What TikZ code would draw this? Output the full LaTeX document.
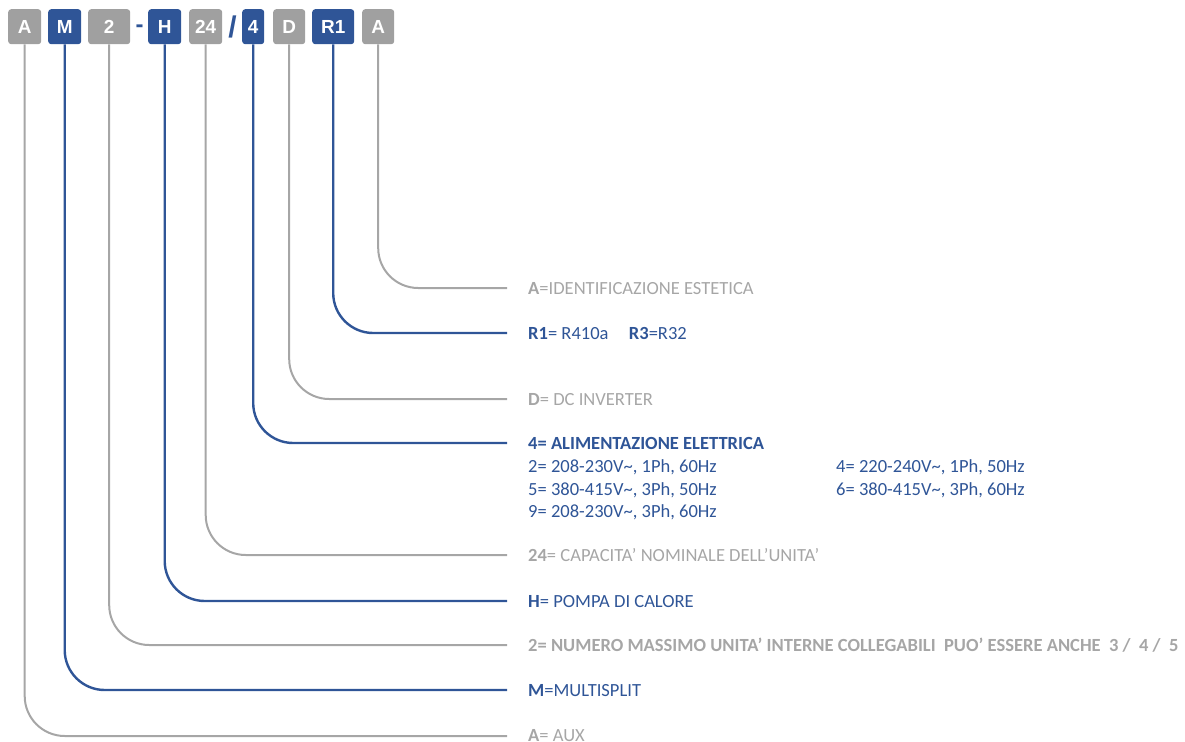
\documentclass[tikz,border=0pt]{standalone}
\usepackage{fontspec}
\setmainfont{Carlito}
\newfontfamily\boxfont{Liberation Sans}
\definecolor{cgray}{RGB}{160,160,160}
\definecolor{lgray}{RGB}{166,166,166}
\definecolor{cblue}{RGB}{47,85,151}
\begin{document}
\begin{tikzpicture}[x=1bp,y=-1bp,
  codebox/.style={rounded corners=3bp, inner sep=0pt, minimum height=35bp, text=white,
     font=\boxfont\fontsize{19}{19}\selectfont\bfseries, anchor=north west},
  gbox/.style={codebox, fill=cgray},
  bbox/.style={codebox, fill=cblue},
  glink/.style={draw=lgray, line width=2bp, rounded corners=40bp},
  blink/.style={draw=cblue, line width=2.4bp, rounded corners=40bp},
  lab/.style={anchor=west, inner sep=0pt, text height=12bp, text depth=0pt,
     font=\fontsize{18.6}{18.6}\selectfont},
  glab/.style={lab, text=lgray},
  blab/.style={lab, text=cblue}]
\useasboundingbox (0,0) rectangle (1185,742);
% code boxes
\node[gbox, minimum width=33bp] (b1) at (8,9) {A};
\node[bbox, minimum width=33bp] (b2) at (48,9) {M};
\node[gbox, minimum width=42bp] (b3) at (88,9) {2};
\node[text=cblue, inner sep=0pt, anchor=base, font=\boxfont\fontsize{24}{24}\selectfont\bfseries] (dash) at (139.5,32.5) {-};
\node[bbox, minimum width=33bp] (b4) at (148,9) {H};
\node[gbox, minimum width=33bp] (b5) at (189,9) {24};
\node[text=cblue, inner sep=0pt, font=\boxfont\fontsize{30}{30}\selectfont\bfseries] (slash) at (232.5,27) {/};
\node[bbox, minimum width=22bp] (b6) at (242,9) {4};
\node[gbox, minimum width=32bp] (b7) at (273,9) {D};
\node[bbox, minimum width=42bp] (b8) at (312,9) {R1};
\node[gbox, minimum width=32bp] (b9) at (362,9) {A};
% line ends
\coordinate (e9) at (507,288);
\coordinate (e8) at (507,333);
\coordinate (e7) at (507,399);
\coordinate (e6) at (507,443);
\coordinate (e5) at (507,555);
\coordinate (e4) at (507,601);
\coordinate (e3) at (507,645);
\coordinate (e2) at (507,690);
\coordinate (e1) at (507,736);
% labels
\node[glab] (l9) at (528,288) {\textbf{A}=IDENTIFICAZIONE ESTETICA};
\node[blab] (l8) at (528,333) {\textbf{R1}= R410a\hspace{1.1em}\textbf{R3}=R32};
\node[glab] (l7) at (528,399) {\textbf{D}= DC INVERTER};
\node[blab] (l6) at (528,443) {\textbf{4= ALIMENTAZIONE ELETTRICA}};
\node[blab] (r1a) at (528,466) {2= 208-230V\textasciitilde, 1Ph, 60Hz};
\node[blab] (r1b) at (836,466) {4= 220-240V\textasciitilde, 1Ph, 50Hz};
\node[blab] (r2a) at (528,489) {5= 380-415V\textasciitilde, 3Ph, 50Hz};
\node[blab] (r2b) at (836,489) {6= 380-415V\textasciitilde, 3Ph, 60Hz};
\node[blab] (r3a) at (528,511) {9= 208-230V\textasciitilde, 3Ph, 60Hz};
\node[glab] (l5) at (528,555) {\textbf{24}= CAPACITA’ NOMINALE DELL’UNITA’};
\node[blab] (l4) at (528,601) {\textbf{H}= POMPA DI CALORE};
\node[glab] (l3) at (528,645) {\textbf{2= NUMERO MASSIMO UNITA’ INTERNE COLLEGABILI\ \ PUO’ ESSERE ANCHE\ \ 3 /\ \ 4 /\ \ 5}};
\node[blab] (l2) at (528,690) {\textbf{M}=MULTISPLIT};
\node[glab] (l1) at (528,735) {\textbf{A}= AUX};
% connectors
\draw[glink] (b9.south) |- (e9);
\draw[blink] (b8.south) |- (e8);
\draw[glink] (b7.south) |- (e7);
\draw[blink] (b6.south) |- (e6);
\draw[glink] (b5.south) |- (e5);
\draw[blink] (b4.south) |- (e4);
\draw[glink] (b3.south) |- (e3);
\draw[blink] (b2.south) |- (e2);
\draw[glink] (b1.south) |- (e1);
\end{tikzpicture}
\end{document}
